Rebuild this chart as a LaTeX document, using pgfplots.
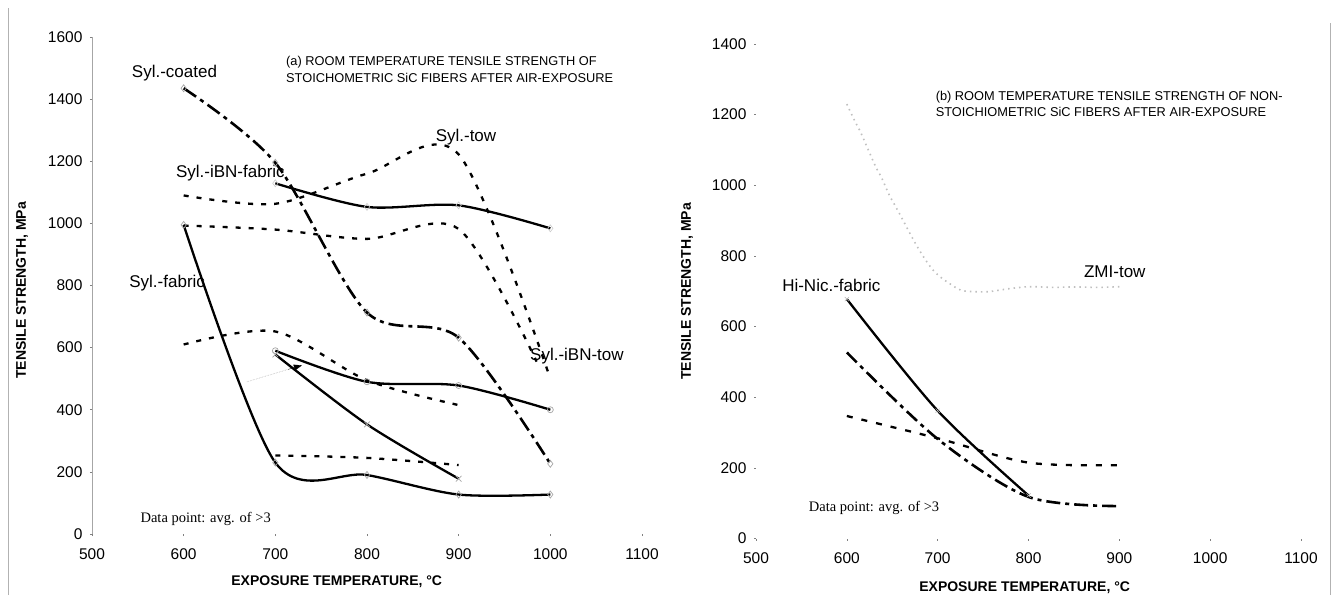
\documentclass[border=0pt]{standalone}
\usepackage{fontspec}
\setmainfont{Liberation Sans}
\newfontfamily\timesfont{Liberation Serif}
\usepackage{pgfplots}
\pgfplotsset{compat=1.18}
\usetikzlibrary{arrows.meta}

\tikzset{lab/.style={font=\fontsize{17}{20}\selectfont}}
\pgfplotsset{
 panel/.style={
  scale only axis,
  axis lines=left,
  axis line style={-},
  x axis line style={draw=none},
  xmin=500, xmax=1100,
  xtick={500,600,...,1100},
  tick align=outside,
  tick style={gray, line width=0.6pt},
  major tick length=2pt,
  /pgf/number format/assume math mode=true,
  /pgf/number format/1000 sep={},
  tick label style={font=\fontsize{15.5}{18}\selectfont},
  xticklabel style={yshift=-9pt},
  yticklabel style={xshift=-4pt},
  label style={font=\bfseries\fontsize{14}{16}\selectfont},
  clip=false,
 },
 sol/.style={black, line width=2.3pt, smooth},
 dsh/.style={black, line width=2.3pt, smooth, dash pattern=on 5pt off 8pt},
 ddot/.style={black, line width=2.6pt, smooth, dash pattern=on 15pt off 5pt on 4pt off 5pt},
 dmk/.style={mark=diamond, mark size=3.5pt, mark options={solid, draw=gray!70, line width=0.7pt}},
 cmk/.style={mark=o, mark size=3pt, mark options={solid, draw=gray!70, line width=0.7pt}},
 xmk/.style={mark=x, mark size=4pt, mark options={solid, draw=gray!70, line width=0.7pt}},
}

\begin{document}
\begin{tikzpicture}
\useasboundingbox (0,0) rectangle (1333pt,603pt);
\draw[gray!60, line width=0.8pt] (8pt,8pt) -- (8pt,595pt);
\draw[gray!60, line width=0.8pt] (1330pt,8pt) -- (1330pt,580pt);

% ---------- (a) ----------
\begin{axis}[panel,
  at={(92pt,69pt)}, anchor=south west,
  width=550pt, height=497pt,
  ymin=0, ymax=1600, ytick={0,200,...,1600},
  y axis line style={gray!70, line width=0.6pt},
  xlabel={EXPOSURE TEMPERATURE, °C},
  ylabel={TENSILE STRENGTH, MPa},
  xlabel style={at={(axis description cs:0.445,-0.0966)}, anchor=center},
  ylabel style={at={(axis description cs:-0.127,0.49)}, anchor=center},
]
% Syl.-coated
\addplot[ddot, dmk] coordinates {(600,1435) (700,1195) (800,713) (900,632) (1000,226)};
% Syl.-iBN-fabric
\addplot[sol, dmk, mark options={solid, draw=gray!40, line width=0.6pt}] coordinates {(700,1129) (800,1053) (900,1058) (1000,984)};
% Syl.-tow
\addplot[dsh] coordinates {(600,1090) (700,1063) (800,1160) (900,1222) (1000,500)};
% Syl.-iBN-tow
\addplot[dsh] coordinates {(600,993) (700,980) (800,950) (900,982) (985,555)};
% Syl.-fabric
\addplot[sol, dmk] coordinates {(600,995) (700,230) (800,190) (900,127) (1000,127)};
% dashed 600-900
\addplot[dsh] coordinates {(600,610) (700,652) (800,495) (900,415)};
% solid 700-1000
\addplot[sol, cmk] coordinates {(700,590) (800,490) (900,478) (1000,400)};
% solid with x marks
\addplot[sol, xmk] coordinates {(700,578) (800,353) (900,178)};
% dashed 700-900
\addplot[dsh] coordinates {(700,253) (800,245) (900,222)};

\draw[gray!60, line width=0.6pt, densely dotted] (669,490) -- (714,530);
\draw[black, line width=0.3pt, -{Triangle[length=8pt,width=6pt]}] (714,530) -- (729,543);

\node[anchor=west, align=left, font=\fontsize{12.8}{16.5}\selectfont] at (708,1495)
  {(a) ROOM TEMPERATURE TENSILE STRENGTH OF\\STOICHOMETRIC SiC FIBERS AFTER AIR-EXPOSURE};
\node[lab] at (590,1484) {Syl.-coated};
\node[lab] at (908,1279) {Syl.-tow};
\node[lab] at (651,1163) {Syl.-iBN-fabric};
\node[lab] at (582,807) {Syl.-fabric};
\node[lab] at (1029,574) {Syl.-iBN-tow};
\node[font=\timesfont\fontsize{14.5}{17}\selectfont] at (624,47) {Data point: avg. of >3};
\end{axis}

% ---------- (b) ----------
\begin{axis}[panel,
  at={(756pt,64.4pt)}, anchor=south west,
  width=545pt, height=494.6pt,
  ymin=0, ymax=1400, ytick={0,200,...,1400},
  y axis line style={draw=none},
  xlabel={EXPOSURE TEMPERATURE, °C},
  ylabel={TENSILE STRENGTH, MPa},
  xlabel style={at={(axis description cs:0.493,-0.099)}, anchor=center},
  ylabel style={at={(axis description cs:-0.1266,0.5)}, anchor=center},
]
% ZMI-tow
\addplot[gray!50, line width=1.6pt, smooth, dash pattern=on 1.5pt off 4pt] coordinates {
 (600,1230) (608,1186) (615,1151) (623.5,1101) (631.5,1054) (638.5,1020) (646.6,973)
 (653.7,940) (662.1,900) (669.2,865) (676.3,832) (684.3,798) (692.7,767) (700.7,745)
 (713,722) (725.7,703) (739.9,699) (756.3,699) (777.5,707) (798.7,713) (808.1,713)
 (826.9,711) (842,712) (859,712) (876.4,711) (900,713)};
% Hi-Nic.-fabric
\addplot[sol, mark=x, mark size=3pt, mark options={solid, draw=gray!60, line width=0.5pt}] coordinates {(600,678) (700,362) (800,122)};
% dash-dot
\addplot[ddot, dash pattern=on 14pt off 5pt on 4pt off 5pt] coordinates {(600,527) (700,282) (800,118) (900,92)};
% dashed
\addplot[dsh, dash pattern=on 6pt off 9pt] coordinates {(600,347) (700,284) (800,215) (900,208)};

\node[anchor=west, align=left, font=\fontsize{12.8}{16.5}\selectfont] at (694,1230)
  {(b) ROOM TEMPERATURE TENSILE STRENGTH OF NON-\\STOICHIOMETRIC SiC FIBERS AFTER AIR-EXPOSURE};
\node[lab] at (895,756) {ZMI-tow};
\node[lab] at (583,717) {Hi-Nic.-fabric};
\node[font=\timesfont\fontsize{14.5}{17}\selectfont] at (630,87) {Data point: avg. of >3};
\end{axis}
\end{tikzpicture}
\end{document}
